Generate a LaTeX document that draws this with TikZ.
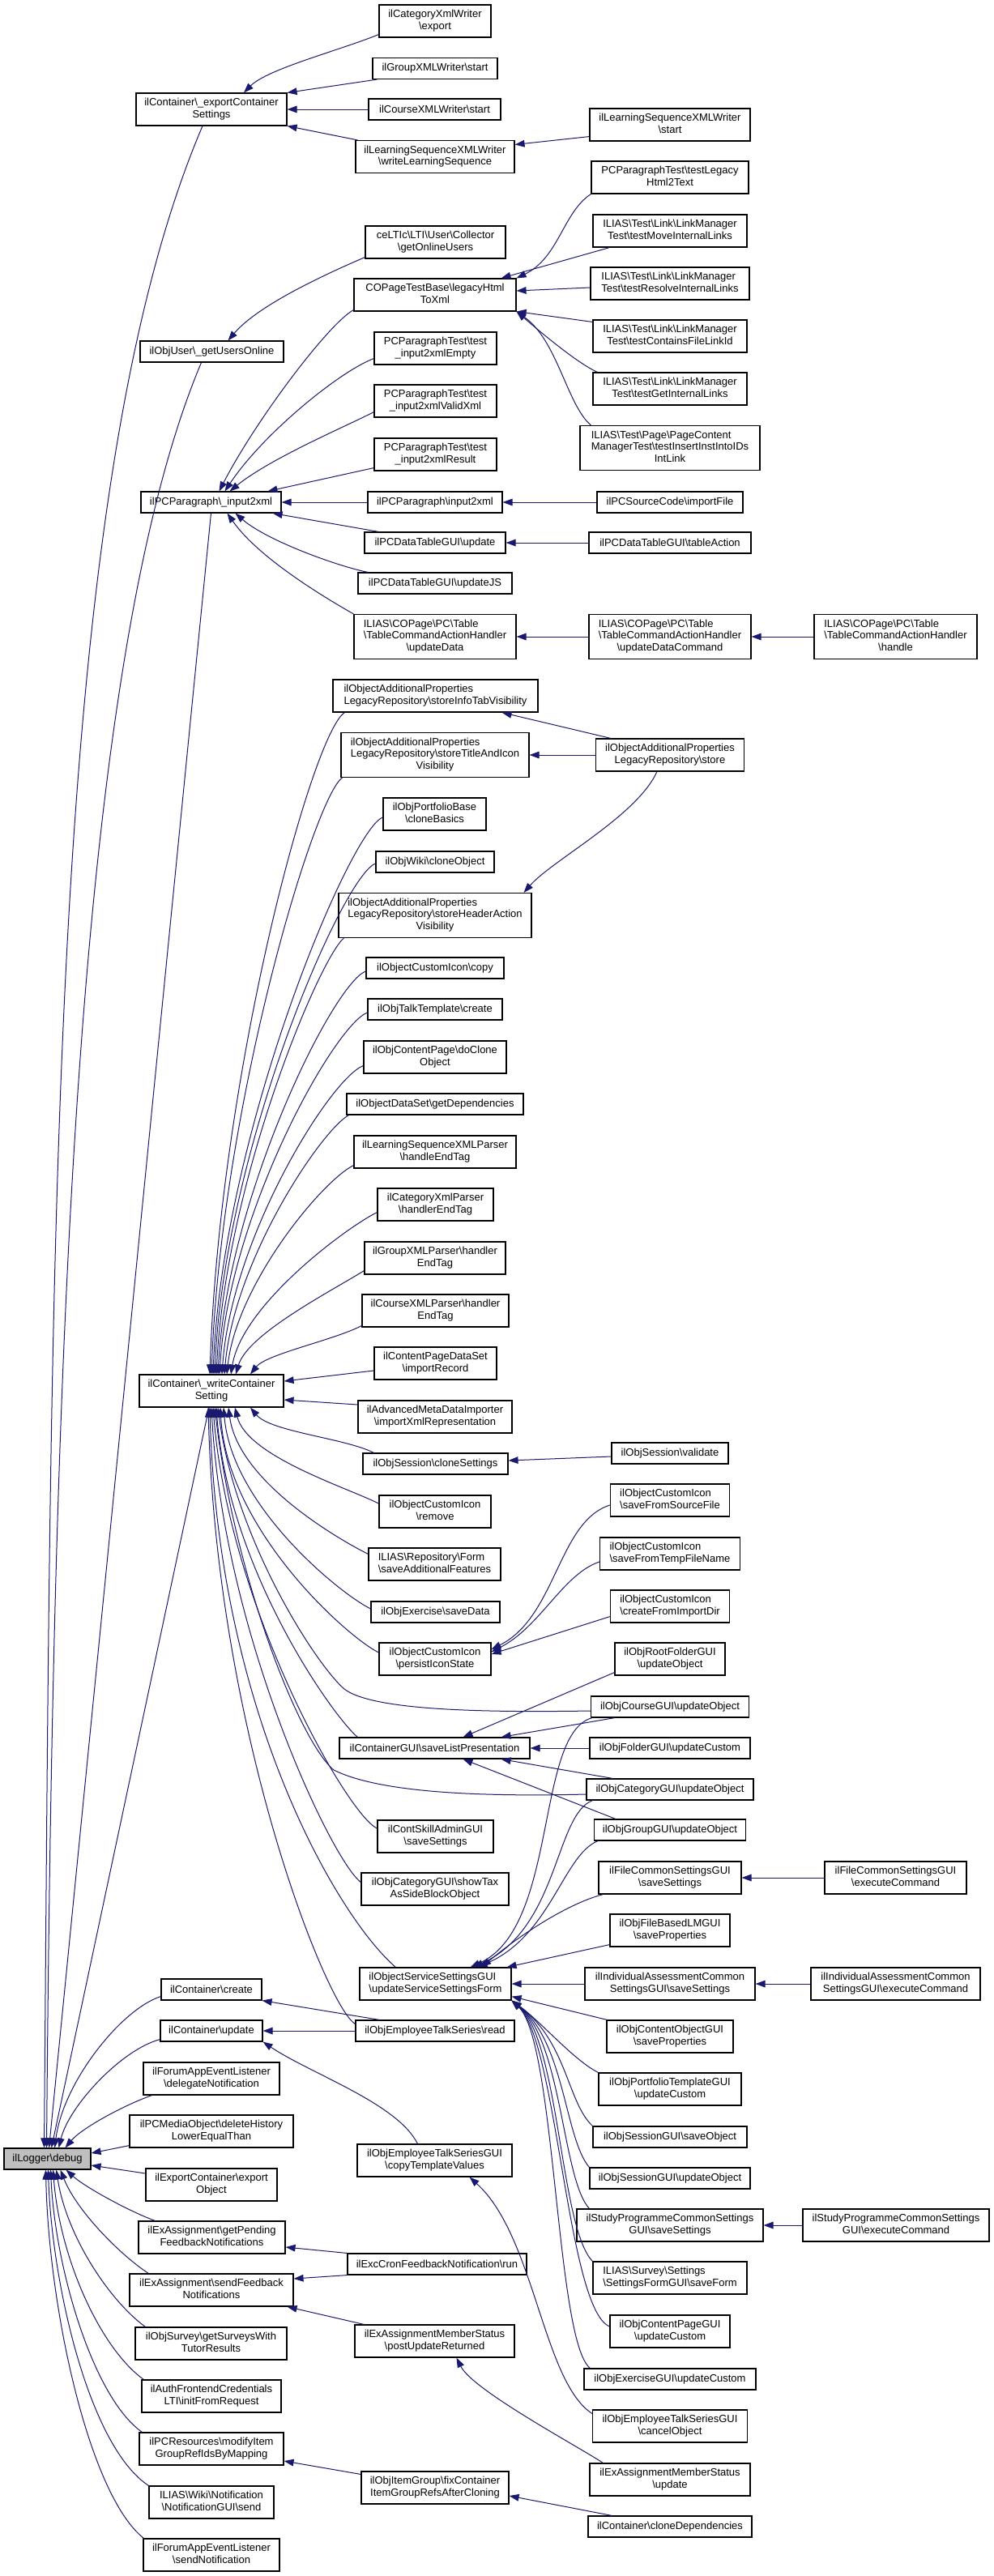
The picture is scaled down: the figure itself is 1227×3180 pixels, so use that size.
\documentclass[tikz,border=0pt]{standalone}
\usepackage{fontspec}
\setmainfont{Liberation Sans}
\usetikzlibrary{arrows.meta,calc}
\definecolor{edgec}{HTML}{191970}
\definecolor{logfill}{HTML}{BFBFBF}
\newcommand\bsl{\textbackslash}
\newcommand\twol[2]{\begin{tabular}{@{}l@{}}#1\\\multicolumn{1}{@{}c@{}}{#2}\end{tabular}}
\newcommand\threel[3]{\begin{tabular}{@{}l@{}}#1\\#2\\\multicolumn{1}{@{}c@{}}{#3}\end{tabular}}
\begin{document}
\begin{tikzpicture}[x=0.75pt,y=-0.75pt,
 box/.style={draw=black,line width=0.85pt,fill=white,inner xsep=1pt,inner ysep=0pt,align=center,font=\fontsize{9.75}{10.9}\selectfont},
 bw/.style={minimum width=#1*0.75pt},
 ha/.style={minimum height=26*0.75pt},
 hb/.style={minimum height=40*0.75pt},
 hc/.style={minimum height=55*0.75pt},
 conn/.style={draw=edgec,line width=0.75pt,-{Triangle[length=9pt,width=6.5pt]}},
]
\fill[white] (0,0) rectangle (1227,3180);
\useasboundingbox (0,0) rectangle (1227,3180);

% ---------- column 0 / 1 ----------
\node[box,bw=107,ha,fill=logfill] (nlog) at (58.5,2665) {ilLogger\bsl{}debug};
\node[box,bw=186,hb] (necs) at (261,135) {\twol{ilContainer\bsl\_exportContainer}{Settings}};
\node[box,bw=177,ha] (nguo) at (261.5,434) {ilObjUser\bsl\_getUsersOnline};
\node[box,bw=173,ha] (ni2x) at (260.5,620) {ilPCParagraph\bsl\_input2xml};
\node[box,bw=178,hb] (nwcs) at (261,1717) {\twol{ilContainer\bsl\_writeContainer}{Setting}};
\node[box,bw=124,ha] (ncre) at (261,2456) {ilContainer\bsl{}create};
\node[box,bw=126,ha] (nupd) at (261,2507) {ilContainer\bsl{}update};
\node[box,bw=168,hb] (nfdn) at (261,2566) {\twol{ilForumAppEventListener}{\bsl{}delegateNotification}};
\node[box,bw=202,hb] (npcm) at (261,2631) {\twol{ilPCMediaObject\bsl{}deleteHistory}{LowerEqualThan}};
\node[box,bw=162,hb] (nexp) at (261,2697) {\twol{ilExportContainer\bsl{}export}{Object}};
\node[box,bw=181,hb] (ngpf) at (261.5,2762) {\twol{ilExAssignment\bsl{}getPending}{FeedbackNotifications}};
\node[box,bw=202,hb] (nsfn) at (261,2827) {\twol{ilExAssignment\bsl{}sendFeedback}{Notifications}};
\node[box,bw=187,hb] (ngsw) at (260.5,2893) {\twol{ilObjSurvey\bsl{}getSurveysWith}{TutorResults}};
\node[box,bw=172,hb] (nifr) at (261,2958) {\twol{ilAuthFrontendCredentials}{LTI\bsl{}initFromRequest}};
\node[box,bw=178,hb] (nmig) at (261,3023) {\twol{ilPCResources\bsl{}modifyItem}{GroupRefIdsByMapping}};
\node[box,bw=154,hb] (nwik) at (261,3089) {\twol{ILIAS\bsl{}Wiki\bsl{}Notification}{\bsl{}NotificationGUI\bsl{}send}};
\node[box,bw=168,hb] (nfsn) at (261,3154) {\twol{ilForumAppEventListener}{\bsl{}sendNotification}};

% ---------- column 2 ----------
\node[box,bw=138,hb] (a1) at (537,26) {\twol{ilCategoryXmlWriter}{\bsl{}export}};
\node[box,bw=154,ha] (a2) at (537,84.5) {ilGroupXMLWriter\bsl{}start};
\node[box,bw=163,ha] (a3) at (536.5,135) {ilCourseXMLWriter\bsl{}start};
\node[box,bw=196,hb] (a4) at (537,193.5) {\twol{ilLearningSequenceXMLWriter}{\bsl{}writeLearningSequence}};
\node[box,bw=173,hb] (a5) at (537.5,299) {\twol{ceLTIc\bsl{}LTI\bsl{}User\bsl{}Collector}{\bsl{}getOnlineUsers}};
\node[box,bw=200,hb] (a6) at (537,364) {\twol{COPageTestBase\bsl{}legacyHtml}{ToXml}};
\node[box,bw=151,hb] (a7) at (537.5,430) {\twol{PCParagraphTest\bsl{}test}{\_input2xmlEmpty}};
\node[box,bw=151,hb] (a8) at (537.5,495) {\twol{PCParagraphTest\bsl{}test}{\_input2xmlValidXml}};
\node[box,bw=151,hb] (a9) at (537.5,561) {\twol{PCParagraphTest\bsl{}test}{\_input2xmlResult}};
\node[box,bw=166,ha] (a10) at (537,620) {ilPCParagraph\bsl{}input2xml};
\node[box,bw=174,ha] (a11) at (537,670) {ilPCDataTableGUI\bsl{}update};
\node[box,bw=190,ha] (a12) at (537,720) {ilPCDataTableGUI\bsl{}updateJS};
\node[box,bw=200,hc] (a13) at (537,786) {\threel{ILIAS\bsl{}COPage\bsl{}PC\bsl{}Table}{\bsl{}TableCommandActionHandler}{\bsl{}updateData}};
\node[box,bw=253,hb] (a14) at (537.5,859) {\twol{ilObjectAdditionalProperties}{LegacyRepository\bsl{}storeInfoTabVisibility}};
\node[box,bw=232,hc] (a15) at (537,932) {\threel{ilObjectAdditionalProperties}{LegacyRepository\bsl{}storeTitleAndIcon}{Visibility}};
\node[box,bw=127,hb] (a16) at (536.5,1005) {\twol{ilObjPortfolioBase}{\bsl{}cloneBasics}};
\node[box,bw=146,ha] (a17) at (537,1064) {ilObjWiki\bsl{}cloneObject};
\node[box,bw=238,hc] (a18) at (537,1130) {\threel{ilObjectAdditionalProperties}{LegacyRepository\bsl{}storeHeaderAction}{Visibility}};
\node[box,bw=170,ha] (a19) at (537,1195) {ilObjectCustomIcon\bsl{}copy};
\node[box,bw=166,ha] (a20) at (537,1246) {ilObjTalkTemplate\bsl{}create};
\node[box,bw=176,hb] (a21) at (537,1305) {\twol{ilObjContentPage\bsl{}doClone}{Object}};
\node[box,bw=218,ha] (a22) at (537,1363) {ilObjectDataSet\bsl{}getDependencies};
\node[box,bw=200,hb] (a23) at (537,1422) {\twol{ilLearningSequenceXMLParser}{\bsl{}handleEndTag}};
\node[box,bw=143,hb] (a24) at (537.5,1487) {\twol{ilCategoryXmlParser}{\bsl{}handlerEndTag}};
\node[box,bw=174,hb] (a25) at (537,1553) {\twol{ilGroupXMLParser\bsl{}handler}{EndTag}};
\node[box,bw=181,hb] (a26) at (537.5,1618) {\twol{ilCourseXMLParser\bsl{}handler}{EndTag}};
\node[box,bw=151,hb] (a27) at (537.5,1683) {\twol{ilContentPageDataSet}{\bsl{}importRecord}};
\node[box,bw=190,hb] (a28) at (537,1749) {\twol{ilAdvancedMetaDataImporter}{\bsl{}importXmlRepresentation}};
\node[box,bw=179,ha] (a29) at (537.5,1807) {ilObjSession\bsl{}cloneSettings};
\node[box,bw=138,hb] (a30) at (537,1866) {\twol{ilObjectCustomIcon}{\bsl{}remove}};
\node[box,bw=163,hb] (a31) at (536.5,1931) {\twol{ILIAS\bsl{}Repository\bsl{}Form}{\bsl{}saveAdditionalFeatures}};
\node[box,bw=159,ha] (a32) at (537.5,1990) {ilObjExercise\bsl{}saveData};
\node[box,bw=138,hb] (a33) at (537,2048) {\twol{ilObjectCustomIcon}{\bsl{}persistIconState}};
\node[box,bw=235,ha] (a34) at (536.5,2158) {ilContainerGUI\bsl{}saveListPresentation};
\node[box,bw=143,hb] (a35) at (537.5,2267) {\twol{ilContSkillAdminGUI}{\bsl{}saveSettings}};
\node[box,bw=182,hb] (a36) at (537,2332) {\twol{ilObjCategoryGUI\bsl{}showTax}{AsSideBlockObject}};
\node[box,bw=187,hb] (a37) at (537.5,2449) {\twol{ilObjectServiceSettingsGUI}{\bsl{}updateServiceSettingsForm}};
\node[box,bw=196,ha] (a38) at (537,2507) {ilObjEmployeeTalkSeries\bsl{}read};
\node[box,bw=191,hb] (a39) at (536.5,2667) {\twol{ilObjEmployeeTalkSeriesGUI}{\bsl{}copyTemplateValues}};
\node[box,bw=221,ha] (a40) at (539.5,2795) {ilExcCronFeedbackNotification\bsl{}run};
\node[box,bw=197,hb] (a41) at (536.5,2890) {\twol{ilExAssignmentMemberStatus}{\bsl{}postUpdateReturned}};
\node[box,bw=182,hb] (a42) at (537,3071) {\twol{ilObjItemGroup\bsl{}fixContainer}{ItemGroupRefsAfterCloning}};

% ---------- column 3 ----------
\node[box,bw=198,hb] (b1) at (827,154) {\twol{ilLearningSequenceXMLWriter}{\bsl{}start}};
\node[box,bw=194,hb] (b2) at (827,219) {\twol{PCParagraphTest\bsl{}testLegacy}{Html2Text}};
\node[box,bw=190,hb] (b3) at (827,285) {\twol{ILIAS\bsl{}Test\bsl{}Link\bsl{}LinkManager}{Test\bsl{}testMoveInternalLinks}};
\node[box,bw=196,hb] (b4) at (827,350) {\twol{ILIAS\bsl{}Test\bsl{}Link\bsl{}LinkManager}{Test\bsl{}testResolveInternalLinks}};
\node[box,bw=190,hb] (b5) at (827,415) {\twol{ILIAS\bsl{}Test\bsl{}Link\bsl{}LinkManager}{Test\bsl{}testContainsFileLinkId}};
\node[box,bw=190,hb] (b6) at (827,480) {\twol{ILIAS\bsl{}Test\bsl{}Link\bsl{}LinkManager}{Test\bsl{}testGetInternalLinks}};
\node[box,bw=222,hc] (b7) at (827,553) {\threel{ILIAS\bsl{}Test\bsl{}Page\bsl{}PageContent}{ManagerTest\bsl{}testInsertInstIntoIDs}{IntLink}};
\node[box,bw=180,ha] (b8) at (827,620) {ilPCSourceCode\bsl{}importFile};
\node[box,bw=200,ha] (b9) at (827,670) {ilPCDataTableGUI\bsl{}tableAction};
\node[box,bw=200,hc] (b10) at (827,786) {\threel{ILIAS\bsl{}COPage\bsl{}PC\bsl{}Table}{\bsl{}TableCommandActionHandler}{\bsl{}updateDataCommand}};
\node[box,bw=183,hb] (b11) at (827,932) {\twol{ilObjectAdditionalProperties}{LegacyRepository\bsl{}store}};
\node[box,bw=144,ha] (b12) at (827,1794) {ilObjSession\bsl{}validate};
\node[box,bw=147,hb] (b13) at (827,1852) {\twol{ilObjectCustomIcon}{\bsl{}saveFromSourceFile}};
\node[box,bw=173,hb] (b14) at (827,1918) {\twol{ilObjectCustomIcon}{\bsl{}saveFromTempFileName}};
\node[box,bw=147,hb] (b15) at (827,1983) {\twol{ilObjectCustomIcon}{\bsl{}createFromImportDir}};
\node[box,bw=136,hb] (b16) at (827,2048) {\twol{ilObjRootFolderGUI}{\bsl{}updateObject}};
\node[box,bw=195,ha] (b17) at (827,2107) {ilObjCourseGUI\bsl{}updateObject};
\node[box,bw=198,ha] (b18) at (827,2158) {ilObjFolderGUI\bsl{}updateCustom};
\node[box,bw=206,ha] (b19) at (827,2209) {ilObjCategoryGUI\bsl{}updateObject};
\node[box,bw=187,ha] (b20) at (827,2259) {ilObjGroupGUI\bsl{}updateObject};
\node[box,bw=176,hb] (b21) at (827,2318) {\twol{ilFileCommonSettingsGUI}{\bsl{}saveSettings}};
\node[box,bw=148,hb] (b22) at (827,2383) {\twol{ilObjFileBasedLMGUI}{\bsl{}saveProperties}};
\node[box,bw=210,hb] (b23) at (827,2449) {\twol{ilIndividualAssessmentCommon}{SettingsGUI\bsl{}saveSettings}};
\node[box,bw=156,hb] (b24) at (827,2514) {\twol{ilObjContentObjectGUI}{\bsl{}saveProperties}};
\node[box,bw=176,hb] (b25) at (827,2579) {\twol{ilObjPortfolioTemplateGUI}{\bsl{}updateCustom}};
\node[box,bw=190,ha] (b26) at (827,2638) {ilObjSessionGUI\bsl{}saveObject};
\node[box,bw=198,ha] (b27) at (827,2689) {ilObjSessionGUI\bsl{}updateObject};
\node[box,bw=230,hb] (b28) at (827,2747) {\twol{ilStudyProgrammeCommonSettings}{GUI\bsl{}saveSettings}};
\node[box,bw=190,hb] (b29) at (827,2812) {\twol{ILIAS\bsl{}Survey\bsl{}Settings}{\bsl{}SettingsFormGUI\bsl{}saveForm}};
\node[box,bw=148,hb] (b30) at (827,2878) {\twol{ilObjContentPageGUI}{\bsl{}updateCustom}};
\node[box,bw=212,ha] (b31) at (827,2937) {ilObjExerciseGUI\bsl{}updateCustom};
\node[box,bw=191,hb] (b32) at (827,2995) {\twol{ilObjEmployeeTalkSeriesGUI}{\bsl{}cancelObject}};
\node[box,bw=198,hb] (b33) at (827,3061) {\twol{ilExAssignmentMemberStatus}{\bsl{}update}};
\node[box,bw=202,ha] (b34) at (827,3119) {ilContainer\bsl{}cloneDependencies};

% ---------- column 4 ----------
\node[box,bw=201,hc] (c1) at (1105.5,786) {\threel{ILIAS\bsl{}COPage\bsl{}PC\bsl{}Table}{\bsl{}TableCommandActionHandler}{\bsl{}handle}};
\node[box,bw=175,hb] (c2) at (1105.5,2318) {\twol{ilFileCommonSettingsGUI}{\bsl{}executeCommand}};
\node[box,bw=209,hb] (c3) at (1105.5,2449) {\twol{ilIndividualAssessmentCommon}{SettingsGUI\bsl{}executeCommand}};
\node[box,bw=230,hb] (c4) at (1106,2747) {\twol{ilStudyProgrammeCommonSettings}{GUI\bsl{}executeCommand}};

% ---------- edges into ilLogger\debug ----------
\draw[conn] ($(necs.south)+(-11,0)$) .. controls (60,600) and (64,1500) .. ($(nlog.north)+(-4,0)$);
\draw[conn] ($(nguo.south)+(-13,0)$) .. controls (100,800) and (66,1600) .. ($(nlog.north)+(-1,0)$);
\draw[conn] (ni2x.south) -- ($(nlog.north)+(2,0)$);
\draw[conn] ($(nwcs.south)+(-3,0)$) -- ($(nlog.north)+(5,0)$);
\draw[conn] ($(ncre.south west)+(0,-5)$) .. controls (150,2480) and (78,2570) .. ($(nlog.north)+(9,0)$);
\draw[conn] ($(nupd.south west)+(0,-3)$) .. controls (150,2530) and (85,2600) .. ($(nlog.north)+(14,0)$);
\draw[conn] ($(nfdn.south west)+(11,0)$) .. controls (150,2600) and (100,2628) .. ($(nlog.north)+(22,0)$);
\draw[conn] ($(npcm.south west)+(0,-3)$) -- ($(nlog.east)+(0,-7)$);
\draw[conn] ($(nexp.west)+(0,-14)$) -- ($(nlog.east)+(0,8)$);
\draw[conn] ($(ngpf.north west)+(21,0)$) .. controls (160,2730) and (105,2700) .. ($(nlog.south)+(23,0)$);
\draw[conn] ($(nsfn.north west)+(24,0)$) .. controls (150,2785) and (95,2730) .. ($(nlog.south)+(16,0)$);
\draw[conn] ($(ngsw.north west)+(13,0)$) .. controls (135,2840) and (82,2760) .. ($(nlog.south)+(11,0)$);
\draw[conn] ($(nifr.north west)+(3,0)$) .. controls (125,2900) and (74,2790) .. ($(nlog.south)+(7,0)$);
\draw[conn] ($(nmig.north west)+(4,0)$) .. controls (115,2960) and (68,2800) .. ($(nlog.south)+(4,0)$);
\draw[conn] (nwik.north west) .. controls (110,3020) and (64,2820) .. ($(nlog.south)+(1,0)$);
\draw[conn] ($(nfsn.north west)+(1,0)$) .. controls (110,3080) and (60,2850) .. ($(nlog.south)+(-2,0)$);

% ---------- edges into column 1 ----------
\draw[conn] ($(a1.south west)+(0,-4)$) .. controls (420,62) and (330,85) .. ($(necs.north)+(40,0)$);
\draw[conn] ($(a2.south west)+(6,0)$) -- (necs.north east);
\draw[conn] (a3.west) -- (necs.east);
\draw[conn] ($(a4.north west)+(3,0)$) -- (necs.south east);
\draw[conn] ($(b1.south west)+(0,-6)$) -- ($(a4.east)+(0,-15)$);
\draw[conn] ($(a5.south west)+(0,-2)$) .. controls (410,335) and (320,375) .. ($(nguo.north)+(20,0)$);

\draw[conn] ($(a6.south west)+(0,-2)$) .. controls (405,400) and (315,520) .. ($(ni2x.north)+(10,0)$);
\draw[conn] ($(a7.south west)+(0,-8)$) .. controls (420,458) and (325,535) .. ($(ni2x.north)+(17,0)$);
\draw[conn] ($(a8.south west)+(0,-7)$) .. controls (430,525) and (335,565) .. ($(ni2x.north)+(23,0)$);
\draw[conn] ($(a9.south west)+(0,-4)$) -- ($(ni2x.north)+(70,0)$);
\draw[conn] (a10.west) -- (ni2x.east);
\draw[conn] ($(a11.north west)+(18,0)$) -- ($(ni2x.south east)+(-11,0)$);
\draw[conn] ($(a12.north west)+(13,0)$) .. controls (420,700) and (330,668) .. ($(ni2x.south)+(30,0)$);
\draw[conn] (a13.north west) .. controls (405,740) and (320,690) .. ($(ni2x.south)+(20,0)$);

\draw[conn] (b2.south west) .. controls (695,262) and (690,318) .. (a6.north east);
\draw[conn] ($(b3.south west)+(21,0)$) -- ($(a6.north east)+(-19,0)$);
\draw[conn] ($(b4.west)+(0,5)$) -- ($(a6.east)+(0,-5)$);
\draw[conn] ($(b5.north west)+(0,3)$) -- (a6.south east);
\draw[conn] ($(b6.north west)+(6,0)$) .. controls (712,448) and (665,408) .. (a6.south east);
\draw[conn] ($(b7.north west)+(14,0)$) .. controls (700,500) and (688,420) .. (a6.south east);
\draw[conn] (b8.west) -- (a10.east);
\draw[conn] (b9.west) -- (a11.east);
\draw[conn] (b10.west) -- (a13.east);
\draw[conn] (c1.west) -- (b10.east);

% into writeContainerSetting, from above
\draw[conn] ($(a14.south west)+(15,0)$) .. controls +(-40,25) and +(12,-370) .. ($(nwcs.north)+(-2,0)$);
\draw[conn] ($(a15.south west)+(2,0)$) .. controls +(-35,25) and +(12,-330) .. (nwcs.north);
\draw[conn] ($(a16.west)+(0,4)$) .. controls +(-40,15) and +(12,-300) .. ($(nwcs.north)+(2,0)$);
\draw[conn] ($(a17.west)+(0,2)$) .. controls +(-40,15) and +(12,-280) .. ($(nwcs.north)+(4,0)$);
\draw[conn] ($(a18.south west)+(7,0)$) .. controls +(-30,25) and +(12,-240) .. ($(nwcs.north)+(6,0)$);
\draw[conn] ($(a19.west)+(0,4)$) .. controls +(-40,15) and +(12,-220) .. ($(nwcs.north)+(8,0)$);
\draw[conn] ($(a20.west)+(0,4)$) .. controls +(-40,15) and +(12,-200) .. ($(nwcs.north)+(10,0)$);
\draw[conn] ($(a21.south west)+(0,-10)$) .. controls +(-40,15) and +(12,-170) .. ($(nwcs.north)+(13,0)$);
\draw[conn] ($(a22.south west)+(3,0)$) .. controls +(-35,20) and +(12,-140) .. ($(nwcs.north)+(16,0)$);
\draw[conn] ($(a23.south west)+(0,-4)$) .. controls +(-40,20) and +(12,-110) .. ($(nwcs.north)+(19,0)$);
\draw[conn] ($(a24.south west)+(0,-11)$) .. controls +(-40,20) and +(14,-85) .. ($(nwcs.north)+(24,0)$);
\draw[conn] ($(a25.south west)+(0,-5)$) .. controls +(-40,25) and +(15,-50) .. ($(nwcs.north)+(30,0)$);
\draw[conn] ($(a26.south west)+(0,-2)$) .. controls +(-35,18) and +(20,-25) .. ($(nwcs.north)+(48,0)$);
\draw[conn] ($(a27.west)+(0,9)$) -- ($(nwcs.east)+(0,-12)$);
\draw[conn] ($(a28.west)+(0,-15)$) -- ($(nwcs.east)+(0,11)$);
% into writeContainerSetting, from below
\draw[conn] ($(a29.north west)+(14,0)$) .. controls +(-35,-18) and +(25,30) .. ($(nwcs.south)+(48,0)$);
\draw[conn] ($(a30.west)+(0,-10)$) .. controls +(-40,-20) and +(15,60) .. ($(nwcs.south)+(29,0)$);
\draw[conn] ($(a31.north west)+(0,8)$) .. controls +(-40,-20) and +(12,90) .. ($(nwcs.south)+(21,0)$);
\draw[conn] ($(a32.west)+(0,-4)$) .. controls +(-40,-20) and +(10,120) .. ($(nwcs.south)+(15,0)$);
\draw[conn] ($(a33.west)+(0,-8)$) .. controls +(-40,-20) and +(8,150) .. ($(nwcs.south)+(11,0)$);
\draw[conn] ($(b17.west)+(0,5)$) .. controls (600,2114) and (460,2112) .. (425,2085) .. controls (390,2055) and (290,1900) .. ($(nwcs.south)+(8,0)$);
\draw[conn] ($(a34.north west)+(23,0)$) .. controls +(-30,-25) and +(15,200) .. ($(nwcs.south)+(6,0)$);
\draw[conn] ($(b19.west)+(0,6)$) .. controls (600,2218) and (470,2214) .. (412,2185) .. controls (370,2150) and (290,1950) .. ($(nwcs.south)+(4,0)$);
\draw[conn] ($(a35.west)+(0,-10)$) .. controls +(-35,-15) and +(20,250) .. ($(nwcs.south)+(2,0)$);
\draw[conn] ($(a36.north west)+(0,12)$) .. controls +(-35,-25) and +(15,280) .. (nwcs.south);
\draw[conn] ($(a37.north west)+(45,0)$) .. controls +(-70,-60) and +(10,380) .. ($(nwcs.south)+(-2,0)$);
\draw[conn] ($(a38.north west)+(0,5)$) .. controls +(-35,-20) and +(10,400) .. ($(nwcs.south)+(-4,0)$);

% ---------- column 3 -> column 2 ----------
\draw[conn] ($(b11.north west)+(19,0)$) -- ($(a14.south east)+(-45,0)$);
\draw[conn] (b11.west) -- (a15.east);
\draw[conn] ($(b11.south)+(-16,0)$) .. controls +(-25,55) and +(35,-40) .. ($(a18.north east)+(-10,0)$);
\draw[conn] ($(b12.west)+(0,4)$) -- ($(a29.east)+(0,-4)$);
\draw[conn] ($(b13.west)+(0,6)$) .. controls +(-64,20) and +(80,-40) .. ($(a33.east)+(0,-12)$);
\draw[conn] ($(b14.west)+(0,10)$) .. controls +(-45,15) and +(60,-30) .. ($(a33.east)+(0,-9)$);
\draw[conn] ($(b15.south west)+(0,-8)$) -- ($(a33.east)+(0,-6)$);

\draw[conn] ($(b16.south west)+(0,-4)$) -- ($(a34.north)+(35,0)$);
\draw[conn] ($(b17.south west)+(30,0)$) -- ($(a34.north east)+(-36,0)$);
\draw[conn] (b18.west) -- (a34.east);
\draw[conn] ($(b19.north west)+(33,0)$) -- ($(a34.south east)+(-36,0)$);
\draw[conn] ($(b20.north west)+(27,0)$) -- ($(a34.south)+(35,0)$);

\draw[conn] ($(b17.south west)+(2,0)$) .. controls (660,2140) and (690,2380) .. ($(a37.north)+(43,0)$);
\draw[conn] ($(b19.south west)+(8,0)$) .. controls (685,2240) and (690,2380) .. ($(a37.north)+(47,0)$);
\draw[conn] ($(b20.south west)+(5,0)$) .. controls (695,2290) and (680,2390) .. ($(a37.north)+(52,0)$);
\draw[conn] ($(b21.south west)+(6,0)$) .. controls (700,2350) and (640,2390) .. ($(a37.north)+(57,0)$);
\draw[conn] ($(b22.south west)+(0,-3)$) -- ($(a37.north east)+(-6,0)$);
\draw[conn] (b23.west) -- (a37.east);
\draw[conn] ($(b24.north west)+(1,0)$) -- ($(a37.south east)+(0,-5)$);
\draw[conn] (b25.north west) .. controls +(-30,-15) and +(35,25) .. (a37.south east);
\draw[conn] (b26.north west) .. controls (700,2595) and (700,2520) .. (a37.south east);
\draw[conn] (b27.north west) .. controls (697,2640) and (697,2520) .. (a37.south east);
\draw[conn] ($(b28.north west)+(16,0)$) .. controls (694,2690) and (694,2520) .. (a37.south east);
\draw[conn] (b29.north west) .. controls (691,2750) and (691,2520) .. (a37.south east);
\draw[conn] ($(b30.west)+(0,-6)$) .. controls (700,2850) and (688,2520) .. (a37.south east);
\draw[conn] ($(b31.north west)+(8,0)$) .. controls (686,2890) and (686,2520) .. (a37.south east);
\draw[conn] ($(b32.north west)+(0,5)$) .. controls (670,2940) and (660,2760) .. ($(a39.south east)+(-53,0)$);
\draw[conn] ($(b33.north west)+(17,0)$) .. controls +(-30,-20) and +(20,40) .. ($(a41.south)+(27,0)$);
\draw[conn] ($(b34.north west)+(30,0)$) -- ($(a42.east)+(0,10)$);

% ---------- column 2 -> column 1 (lower part) ----------
\draw[conn] ($(a38.north west)+(30,0)$) -- (ncre.south east);
\draw[conn] (a38.west) -- (nupd.east);
\draw[conn] ($(a39.north)+(-21,0)$) .. controls +(-25,-50) and +(60,40) .. (nupd.south east);
\draw[conn] (a40.north west) -- ($(ngpf.east)+(0,12)$);
\draw[conn] (a40.south west) -- ($(nsfn.east)+(0,-14)$);
\draw[conn] ($(a41.north west)+(12,0)$) -- ($(nsfn.south east)+(-8,0)$);
\draw[conn] ($(a42.north west)+(0,4)$) -- ($(nmig.east)+(0,15)$);

% ---------- column 4 -> column 3 ----------
\draw[conn] (c2.west) -- (b21.east);
\draw[conn] (c3.west) -- (b23.east);
\draw[conn] (c4.west) -- (b28.east);
\end{tikzpicture}
\end{document}
